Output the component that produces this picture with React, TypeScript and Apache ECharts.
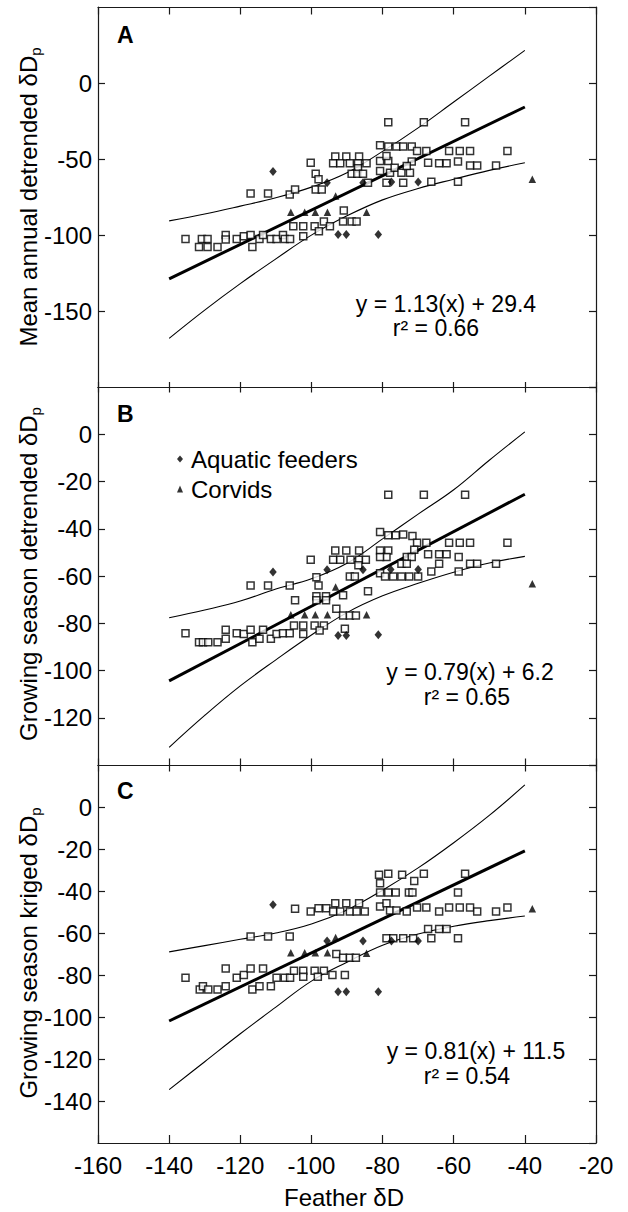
import React, { useEffect, useRef } from "react";
import * as echarts from "echarts";

const FONT = "'Liberation Sans', Arial, Helvetica, sans-serif";

const xMin = -160;
const xMax = -20;
const xStep = 20;
const ciX = [-140, -130, -120, -110, -100, -90, -80, -70, -60, -50, -40];

// ---------- Panel A : Mean annual detrended ----------
const squaresA = [
  [-135.4, -102.6], [-131.6, -107.9], [-130.8, -102.6], [-129.2, -102.6], [-129.2, -107.9], [-126.4, -107.9],
  [-124.1, -100], [-124.1, -103], [-121.0, -102.6], [-119.0, -100.8], [-117.1, -100], [-116.6, -107.9],
  [-114.6, -102.6], [-113.6, -100], [-111.4, -102.6], [-109.8, -102.6], [-108.0, -100], [-107.5, -102.6],
  [-106.0, -102.6], [-102.3, -100.8], [-105.1, -94.2], [-102.3, -94.2], [-99.1, -94.2], [-97.9, -97.5],
  [-96.5, -91.2], [-94.8, -94.2], [-90.9, -83.9], [-91.1, -91.2], [-88.7, -91.2], [-87.3, -91.2],
  [-117.1, -72.7], [-112.2, -72.7], [-106.1, -73.3], [-104.6, -70], [-100.2, -52.4], [-98.8, -59.7],
  [-98.0, -63.4], [-98.8, -70], [-97.1, -70], [-93.3, -48.4], [-90.2, -48.4], [-86.6, -48.4],
  [-93.9, -52.8], [-91.9, -52.8], [-89.2, -52.8], [-86.9, -52.8], [-84.5, -52.8], [-86.9, -56.1],
  [-88.7, -59.7], [-87.1, -59.7], [-85.5, -59.7],
  [-80.7, -41.0], [-78.4, -41.8], [-76.1, -41.8], [-74.2, -41.8], [-71.8, -41.8], [-70.3, -44.7],
  [-67.7, -44.7], [-61.3, -44.7], [-58.3, -44.7], [-55.4, -44.7], [-44.9, -44.7], [-67.2, -52.4],
  [-64.1, -52.8], [-62.0, -52.8], [-58.8, -51.7], [-55.4, -54.2], [-53.4, -54.2], [-48.1, -54.2],
  [-66.3, -65.0], [-58.8, -65.0], [-80.7, -51.3], [-78.4, -51.3], [-78.9, -48.0], [-80.7, -57.9],
  [-77.9, -59.0], [-76.6, -55.7], [-74.7, -59.0], [-72.3, -59.0], [-71.8, -51.7], [-78.9, -65.6],
  [-74.2, -65.6], [-84.1, -65.6], [-73.2, -54.6],
  [-78.4, -25.9], [-68.4, -25.9], [-56.8, -25.9],
];
const diamondsA = [
  [-110.8, -58.3], [-95.6, -65.6], [-85.5, -65.6], [-77.5, -65.2], [-70.0, -65.2],
  [-92.5, -99.7], [-90.2, -99.7], [-81.2, -99.7],
];
const trianglesA = [
  [-105.8, -85], [-101.9, -85], [-98.9, -85], [-95.5, -85], [-93.2, -74.4], [-84.5, -85], [-37.9, -63.4],
];
const fitA = [[-140, -128.8], [-40, -15.8]];
const upperA = [-90.7, -86.2, -81, -75.5, -68.5, -59, -45, -29.5, -12.5, 4.5, 21.5];
const lowerA = [-168, -149.4, -132, -115.7, -100.1, -87.4, -76.9, -69.4, -63.3, -57.5, -52.5];

// ---------- Panel B : Growing season detrended ----------
const squaresB = [
  [-135.4, -84.2], [-131.6, -88], [-130.5, -88], [-129.0, -88], [-126.4, -88], [-124.1, -82.8],
  [-124.1, -86.6], [-121.0, -84.2], [-119.0, -84.5], [-117.1, -82.8], [-116.6, -88], [-114.6, -86.6],
  [-113.6, -82.8], [-111.4, -86.6], [-109.8, -84.5], [-108.0, -84.2], [-106.1, -84.2], [-104.9, -81],
  [-102.3, -81], [-102.3, -84.5], [-99.1, -81], [-96.5, -81], [-97.7, -83.1], [-93.0, -73.9],
  [-91.1, -76.7], [-89.2, -76.7], [-87.5, -76.7], [-90.6, -82.3], [-104.6, -70.3], [-98.6, -68.6],
  [-95.9, -68.6], [-98.6, -70.3], [-95.9, -70.3], [-91.1, -68.2], [-98.0, -64], [-117.1, -64],
  [-112.2, -64], [-106.1, -64], [-98.6, -60.5], [-100.2, -53.1], [-93.3, -49.2], [-90.2, -49.2],
  [-86.6, -49.2], [-93.9, -53.1], [-91.9, -53.1], [-89.0, -53.1], [-86.6, -53.1], [-84.7, -53.1],
  [-89.2, -60.2], [-87.8, -60.2], [-86.8, -55.5],
  [-78.4, -25.6], [-68.4, -25.6], [-56.8, -25.6], [-80.7, -41.4], [-78.4, -42.8], [-76.3, -42.8],
  [-74.2, -42.4], [-71.6, -43.1], [-70.3, -45.9], [-67.7, -45.9], [-61.3, -45.9], [-58.3, -45.9],
  [-55.4, -45.9], [-44.9, -45.9], [-71.1, -48.9], [-67.2, -50.8], [-64.1, -50.8], [-62.0, -50.8],
  [-58.6, -52.0], [-64.1, -54.8], [-55.4, -54.8], [-53.4, -54.8], [-48.1, -54.8], [-66.3, -58.1],
  [-58.6, -58.1], [-80.7, -49.2], [-78.4, -49.2], [-78.9, -52.0], [-80.7, -52.0], [-73.2, -52.0],
  [-71.8, -52.0], [-74.7, -54.8], [-73.2, -54.8], [-80.7, -58.8], [-79.3, -60.2], [-77.0, -60.2],
  [-74.7, -60.2], [-72.5, -60.2], [-70.0, -60.2], [-84.1, -66.5],
];
const diamondsB = [
  [-110.8, -58.3], [-95.6, -57.4], [-85.5, -57.4], [-77.7, -57.3], [-70.0, -57.3],
  [-92.5, -85.2], [-90.2, -85.2], [-81.2, -84.9],
];
const trianglesB = [
  [-105.8, -76.4], [-101.9, -76.4], [-98.9, -76.4], [-95.5, -76.4], [-93.2, -64.7], [-84.5, -76.4], [-37.9, -63.3],
];
const fitB = [[-140, -104.4], [-40, -25.4]];
const upperB = [-77.7, -74.4, -70.6, -65.5, -61.2, -54.6, -44.3, -33.8, -23.5, -11, 1];
const lowerB = [-132.5, -119, -106.5, -95.5, -85, -75.5, -68.4, -63.1, -58.4, -54.5, -51.7];

// ---------- Panel C : Growing season kriged ----------
const squaresC = [
  [-135.4, -81.3], [-131.4, -86.9], [-130.5, -85.3], [-129.0, -86.9], [-126.4, -86.9], [-124.1, -76.9],
  [-124.1, -85.3], [-121.0, -81.3], [-119.0, -80.0], [-117.1, -76.9], [-116.6, -86.9], [-114.6, -85.3],
  [-113.6, -76.9], [-111.4, -85.3], [-109.8, -81.3], [-107.5, -81.3], [-106.0, -81.3], [-104.9, -78.0],
  [-102.3, -78.0], [-102.3, -80.8], [-99.1, -78.0], [-96.5, -78.0], [-98.2, -80.8], [-94.1, -80.0],
  [-90.6, -80.0], [-93.0, -70.0], [-91.1, -71.8], [-89.2, -71.8], [-87.5, -71.8], [-117.1, -61.7],
  [-112.2, -61.7], [-106.1, -61.7], [-104.6, -48.5], [-100.2, -49.8], [-98.0, -48.2], [-95.8, -48.2],
  [-93.3, -45.8], [-90.2, -45.8], [-86.6, -45.8], [-93.9, -49.8], [-91.9, -49.8], [-89.2, -49.8],
  [-87.3, -49.8], [-85.0, -49.8],
  [-81.0, -32.3], [-78.4, -31.8], [-74.5, -32.3], [-68.4, -31.8], [-56.8, -31.8], [-80.7, -36.3],
  [-71.1, -35.2], [-80.7, -40.7], [-78.4, -40.7], [-76.3, -40.7], [-72.6, -40.7], [-71.6, -40.7],
  [-58.8, -40.7], [-80.7, -47.4], [-78.9, -45.8], [-77.9, -49.3], [-76.1, -49.3], [-73.2, -49.8],
  [-70.3, -47.8], [-67.7, -47.8], [-64.1, -49.8], [-61.3, -47.8], [-58.3, -47.8], [-55.4, -47.8],
  [-53.4, -49.8], [-48.1, -49.8], [-44.9, -47.8], [-67.2, -58.1], [-64.1, -58.1], [-62.0, -58.1],
  [-66.3, -62.5], [-58.8, -62.5], [-78.9, -62.5], [-77.0, -62.5], [-74.2, -62.5], [-71.4, -62.5],
];
const diamondsC = [
  [-110.8, -46.6], [-95.6, -63.8], [-85.5, -63.8], [-77.5, -63.8], [-70.0, -63.8],
  [-92.5, -88], [-90.2, -88], [-81.2, -88],
];
const trianglesC = [
  [-105.8, -69.4], [-101.9, -69.4], [-98.9, -69.4], [-95.5, -69.4], [-93.2, -62.2], [-84.5, -69.7], [-37.9, -48.5],
];
const fitC = [[-140, -101.9], [-40, -20.9]];
const upperC = [-69, -66, -63, -60, -55.7, -49, -39.6, -29, -17, -4, 10.5];
const lowerC = [-134.6, -121.3, -108, -95.3, -82.9, -73.9, -65.8, -60.5, -56.8, -54.1, -51.9];

const yTitles = ["Mean annual detrended δD", "Growing season detrended δD", "Growing season kriged δD"];
const panelLetters = ["A", "B", "C"];
const equations = ["y = 1.13(x) + 29.4", "y = 0.79(x) + 6.2", "y = 0.81(x) + 11.5"];
const rSquared = ["r² = 0.66", "r² = 0.65", "r² = 0.54"];
const legendNames = ["Aquatic feeders", "Corvids"];

const panels = [
  { squares: squaresA, diamonds: diamondsA, triangles: trianglesA, fit: fitA, upper: upperA, lower: lowerA, yMin: -200, yMax: 50, yStep: 50 },
  { squares: squaresB, diamonds: diamondsB, triangles: trianglesB, fit: fitB, upper: upperB, lower: lowerB, yMin: -140, yMax: 20, yStep: 20 },
  { squares: squaresC, diamonds: diamondsC, triangles: trianglesC, fit: fitC, upper: upperC, lower: lowerC, yMin: -160, yMax: 20, yStep: 20 },
];

const layout = [
  { top: 7, height: 380, topTick: 7.5, bottomTick: 5, title: 197, letter: 35, eq: [446, 303.5], r2: [436, 328] },
  { top: 387, height: 378, topTick: 5.5, bottomTick: 6.5, title: 574, letter: 414, eq: [470, 672], r2: [467, 696.5] },
  { top: 765, height: 378, topTick: 6.5, bottomTick: 8, title: 953, letter: 791, eq: [476, 1051], r2: [467, 1075.5] },
];

const GRID_LEFT = 98;
const GRID_WIDTH = 498;
const LINE_COLOR = "#1a1a1a";

export default function App() {
  const ref = useRef<HTMLDivElement>(null);

  useEffect(() => {
    document.body.style.margin = "0";
    if (!ref.current) return;
    const chart = echarts.init(ref.current, null, { renderer: "svg" });

    const grid: any[] = [];
    const xAxis: any[] = [];
    const yAxis: any[] = [];
    const series: any[] = [];
    const graphic: any[] = [];

    panels.forEach((p, i) => {
      const L = layout[i];
      grid.push({ left: GRID_LEFT, top: L.top, width: GRID_WIDTH, height: L.height, containLabel: false });
      const axisLine = { show: true, onZero: false, lineStyle: { color: LINE_COLOR, width: 1.2 } };
      const tickStyle = { color: LINE_COLOR, width: 1.2 };
      xAxis.push({
        type: "value", gridIndex: i, position: "bottom", min: xMin, max: xMax, interval: xStep,
        axisLine, splitLine: { show: false },
        axisTick: { show: true, inside: true, length: L.bottomTick, lineStyle: tickStyle },
        axisLabel: { show: i === 2, fontSize: 24, fontFamily: FONT, color: "#000", margin: 10 },
      });
      xAxis.push({
        type: "value", gridIndex: i, position: "top", min: xMin, max: xMax, interval: xStep,
        axisLine, splitLine: { show: false },
        axisTick: { show: true, inside: true, length: L.topTick, lineStyle: tickStyle },
        axisLabel: { show: false },
      });
      yAxis.push({
        type: "value", gridIndex: i, position: "left", min: p.yMin, max: p.yMax, interval: p.yStep,
        axisLine, splitLine: { show: false },
        axisTick: { show: true, inside: true, length: 7, lineStyle: tickStyle },
        axisLabel: { show: true, fontSize: 24, fontFamily: FONT, color: "#000", margin: 6, showMinLabel: false, showMaxLabel: false },
      });
      yAxis.push({
        type: "value", gridIndex: i, position: "right", min: p.yMin, max: p.yMax, interval: p.yStep,
        axisLine, splitLine: { show: false },
        axisTick: { show: true, inside: true, length: 7, lineStyle: tickStyle },
        axisLabel: { show: false },
      });

      const xi = 2 * i;
      const yi = 2 * i;
      const lineBase = { type: "line", xAxisIndex: xi, yAxisIndex: yi, symbol: "none", silent: true, z: 1 };
      series.push({ ...lineBase, name: "upper" + i, smooth: 0.4, data: ciX.map((x, k) => [x, p.upper[k]]), lineStyle: { color: "#000", width: 1.1 } });
      series.push({ ...lineBase, name: "lower" + i, smooth: 0.4, data: ciX.map((x, k) => [x, p.lower[k]]), lineStyle: { color: "#000", width: 1.1 } });
      series.push({ ...lineBase, name: "fit" + i, data: p.fit, lineStyle: { color: "#000", width: 3 } });
      series.push({
        type: "scatter", name: "Other", xAxisIndex: xi, yAxisIndex: yi, data: p.squares, symbol: "rect", symbolSize: 7, z: 3,
        itemStyle: { color: "#fff", borderColor: "#000", borderWidth: 1.5 },
      });
      series.push({
        type: "scatter", name: legendNames[0], xAxisIndex: xi, yAxisIndex: yi, data: p.diamonds, symbol: "diamond", symbolSize: [7.5, 9], z: 4,
        itemStyle: { color: "#000" },
      });
      series.push({
        type: "scatter", name: legendNames[1], xAxisIndex: xi, yAxisIndex: yi, data: p.triangles, symbol: "triangle", symbolSize: [7.5, 7.5], z: 4,
        itemStyle: { color: "#000" },
      });

      graphic.push({
        type: "text", x: 28, y: L.title, rotation: Math.PI / 2, z: 10,
        style: {
          text: "{t|" + yTitles[i] + "}{s|p}", align: "center", verticalAlign: "middle",
          rich: {
            t: { fontSize: 24, fontFamily: FONT, fill: "#000", lineHeight: 30 },
            s: { fontSize: 15, fontFamily: FONT, fill: "#000", lineHeight: 15, verticalAlign: "bottom" },
          },
        },
      });
      graphic.push({
        type: "text", x: 117, y: L.letter, z: 10,
        style: { text: panelLetters[i], fontSize: 23, fontWeight: "bold", fontFamily: FONT, fill: "#000", align: "left", verticalAlign: "middle" },
      });
      graphic.push({
        type: "text", x: L.eq[0], y: L.eq[1], z: 10,
        style: { text: equations[i], fontSize: 23, lineHeight: 20, fontFamily: FONT, fill: "#000", align: "center", verticalAlign: "middle" },
      });
      graphic.push({
        type: "text", x: L.r2[0], y: L.r2[1], z: 10,
        style: { text: rSquared[i], fontSize: 23, lineHeight: 20, fontFamily: FONT, fill: "#000", align: "center", verticalAlign: "middle" },
      });
    });

    graphic.push({
      type: "text", x: 344, y: 1197, z: 10,
      style: { text: "Feather δD", fontSize: 24, fontFamily: FONT, fill: "#000", align: "center", verticalAlign: "middle" },
    });

    chart.setOption({
      animation: false,
      backgroundColor: "#fff",
      grid, xAxis, yAxis, series, graphic,
      legend: {
        data: [{ name: legendNames[0], icon: "diamond" }, { name: legendNames[1], icon: "triangle" }],
        orient: "vertical", left: 172, top: 442, itemWidth: 6, itemHeight: 7, itemGap: 6,
        selectedMode: false,
        textStyle: { fontSize: 24, fontFamily: FONT, color: "#000", lineHeight: 24, padding: [0, 0, 0, 3] },
      },
    });

    return () => chart.dispose();
  }, []);

  return <div ref={ref} style={{ width: 628, height: 1212 }} />;
}
